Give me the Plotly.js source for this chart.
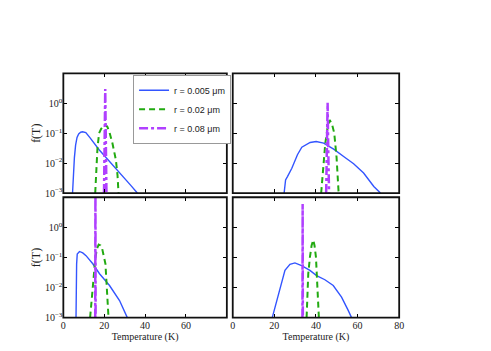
<!DOCTYPE html>
<html>
<head>
<meta charset="utf-8">
<script src="https://cdn.plot.ly/plotly-3.0.1.min.js"></script>
<style>
  body { margin: 0; background: #fff; }
  #myDiv { width: 491px; height: 351px; }
</style>
</head>
<body>
<div id="myDiv"></div>
<script>
// series names
var names = ["r = 0.005 \u03bcm", "r = 0.02 \u03bcm", "r = 0.08 \u03bcm"];

// panel 1 (top left)
var t1Blue = [4.5, 4.9, 5.4, 6, 6.7, 7.5, 8.5, 9.4, 11, 13, 15, 17.6, 20, 25.7, 30, 33, 36.2];
var f1Blue = [0.001, 0.004, 0.015, 0.04, 0.072, 0.095, 0.108, 0.112, 0.105, 0.071, 0.045, 0.0275, 0.018, 0.0068, 0.0032, 0.0018, 0.001];
var t1Green = [15.6, 16.1, 16.7, 17.5, 18.5, 19.5, 20.5, 21.5, 22.5, 24, 25.7, 26.5, 27];
var f1Green = [0.001, 0.0079, 0.032, 0.1, 0.14, 0.17, 0.19, 0.166, 0.112, 0.047, 0.0129, 0.004, 0.001];
var t1Purple = [19.9, 20.2, 20.5, 20.8, 21.1];
var f1Purple = [0.001, 0.05, 3.0, 0.05, 0.001];

// panel 2 (top right)
var t2Blue = [24.7, 25.4, 26.3, 28.4, 31.1, 33.2, 37.2, 40.1, 43.7, 48.5, 53.3, 58.1, 62.9, 67.8, 71];
var f2Blue = [0.001, 0.00275, 0.00355, 0.00676, 0.0191, 0.0339, 0.049, 0.0525, 0.0468, 0.0295, 0.0166, 0.00955, 0.00468, 0.00166, 0.001];
var t2Green = [42.5, 43.5, 44.5, 45.5, 46.6, 47.7, 48.8, 49.9, 50.9];
var f2Green = [0.001, 0.01, 0.047, 0.141, 0.275, 0.2, 0.1, 0.0158, 0.001];
var t2Purple = [44.9, 45.3, 45.6, 45.9, 46.3];
var f2Purple = [0.001, 0.03, 1.05, 0.03, 0.001];

// panel 3 (bottom left)
var t3Blue = [6.2, 6.3, 6.5, 6.8, 7.4, 7.9, 9.5, 11.1, 14.4, 17.7, 22.6, 27.5, 31.3];
var f3Blue = [0.001, 0.01, 0.06, 0.13, 0.15, 0.158, 0.141, 0.115, 0.0617, 0.0288, 0.0117, 0.0037, 0.001];
var t3Green = [13.1, 14.4, 15.7, 16.5, 17.3, 18.2, 19, 20.6, 21.3, 22.1];
var f3Green = [0.001, 0.0102, 0.102, 0.2, 0.269, 0.251, 0.195, 0.0617, 0.0102, 0.001];
var t3Purple = [15.6, 15.7, 15.8];
var f3Purple = [0.001, 50, 0.001];

// panel 4 (bottom right)
var t4Blue = [19.0, 21.1, 22.7, 25.1, 27.5, 29.9, 33.1, 37.1, 40.3, 44.3, 48.3, 52.3, 55.5, 57.1];
var f4Blue = [0.001, 0.0037, 0.0102, 0.0372, 0.0589, 0.066, 0.0537, 0.0372, 0.0251, 0.0182, 0.0117, 0.00479, 0.00174, 0.001];
var t4Green = [35.5, 36.3, 37.1, 37.9, 38.7, 39.3, 40, 40.6, 41.4];
var f4Green = [0.001, 0.0288, 0.102, 0.25, 0.38, 0.25, 0.102, 0.0102, 0.001];
var t4Purple = [33.5, 33.6, 33.7];
var f4Purple = [0.001, 6, 0.001];

var xTicks = [0, 20, 40, 60, 80];
var yTicks = [0.001, 0.01, 0.1, 1];
var yTickText = ['10<sup>\u22123</sup>', '10<sup>\u22122</sup>', '10<sup>\u22121</sup>', '10<sup>0</sup>'];

var blue = '#3355ff', green = '#22aa11', purple = '#b040ff';

var panels = [
  [t1Blue, f1Blue, t1Green, f1Green, t1Purple, f1Purple],
  [t2Blue, f2Blue, t2Green, f2Green, t2Purple, f2Purple],
  [t3Blue, f3Blue, t3Green, f3Green, t3Purple, f3Purple],
  [t4Blue, f4Blue, t4Green, f4Green, t4Purple, f4Purple]
];

var data = [];
var frames = [];
for (var p = 0; p < 4; p++) {
  var ax = p == 0 ? '' : String(p + 1);
  var d = panels[p];
  data.push({x: d[0], y: d[1], xaxis: 'x' + ax, yaxis: 'y' + ax, type: 'scatter', mode: 'lines',
    name: names[0], legendgroup: 'a', showlegend: p == 0,
    line: {color: blue, width: 1.4}});
  data.push({x: d[2], y: d[3], xaxis: 'x' + ax, yaxis: 'y' + ax, type: 'scatter', mode: 'lines',
    name: names[1], legendgroup: 'b', showlegend: p == 0,
    line: {color: green, width: 2, dash: '6px,4px'}});
  data.push({x: d[4], y: d[5], xaxis: 'x' + ax, yaxis: 'y' + ax, type: 'scatter', mode: 'lines',
    name: names[2], legendgroup: 'c', showlegend: p == 0,
    line: {color: purple, width: 2.5, dash: 'dashdot'}});
  // box round each panel
  frames.push({type: 'rect', xref: 'x' + ax + ' domain', yref: 'y' + ax + ' domain',
    x0: 0, x1: 1, y0: 0, y1: 1, line: {color: '#111', width: 1.8}, layer: 'above'});
}

var serif = {family: 'Liberation Serif, Times New Roman, serif', size: 10, color: '#222'};

function xAxis(dom, anchor, labels, vals, title) {
  var a = {domain: dom, anchor: anchor, range: [0, 80], tickvals: vals, showticklabels: labels,
    ticks: 'inside', ticklen: 4, tickcolor: '#000', showline: false,
    mirror: 'ticks', showgrid: false, zeroline: false, tickfont: serif, fixedrange: true};
  if (title) a.title = {text: 'Temperature (K)', font: serif, standoff: 2};
  return a;
}
function yAxis(dom, anchor, labels, title) {
  var a = {domain: dom, anchor: anchor, type: 'log', range: [-3, 1], tickvals: yTicks, ticktext: yTickText,
    showticklabels: labels, ticks: 'inside', ticklen: 4, tickcolor: '#000', showline: false,
    mirror: 'ticks', showgrid: false, zeroline: false, tickfont: serif, fixedrange: true};
  if (title) a.title = {text: 'f(T)', font: {family: serif.family, size: 12, color: '#222'}, standoff: 1};
  return a;
}

var colLeft = [0.129, 0.462], colRight = [0.474, 0.813];
var rowTop = [0.450, 0.791], rowBottom = [0.095, 0.438];

var layout = {
  width: 491, height: 351,
  margin: {l: 0, r: 0, t: 0, b: 0},
  paper_bgcolor: '#fff', plot_bgcolor: '#fff',
  xaxis: xAxis(colLeft, 'y', false, xTicks),
  yaxis: yAxis(rowTop, 'x', true, true),
  xaxis2: xAxis(colRight, 'y2', false, xTicks),
  yaxis2: yAxis(rowTop, 'x2', false, false),
  xaxis3: xAxis(colLeft, 'y3', true, [0, 20, 40, 60], true),
  yaxis3: yAxis(rowBottom, 'x3', true, true),
  xaxis4: xAxis(colRight, 'y4', true, xTicks, true),
  yaxis4: yAxis(rowBottom, 'x4', false, false),
  shapes: frames,
  showlegend: true,
  legend: {x: 0.271, y: 0.787, xanchor: 'left', yanchor: 'top', bgcolor: '#fff',
    bordercolor: '#999', borderwidth: 1, tracegroupgap: 0, itemwidth: 30,
    font: {family: 'Liberation Sans, Arial, sans-serif', size: 9, color: '#222'}}
};

Plotly.newPlot('myDiv', data, layout, {displayModeBar: false, staticPlot: true});
</script>
</body>
</html>
